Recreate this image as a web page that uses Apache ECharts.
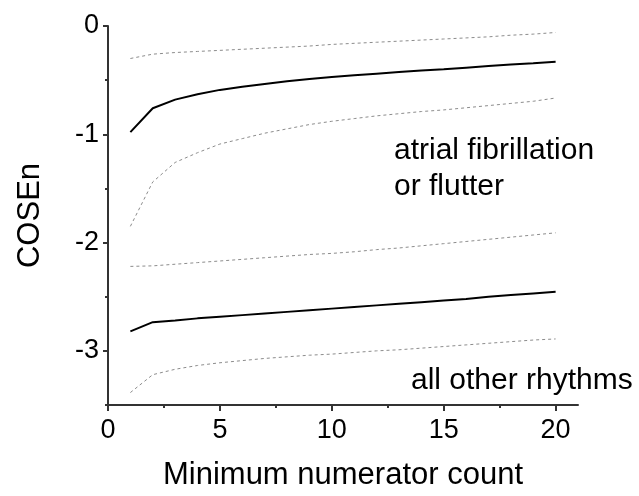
<!DOCTYPE html>
<html>
<head>
<meta charset="utf-8">
<script src="https://cdn.jsdelivr.net/npm/echarts@6/dist/echarts.min.js"></script>
<style>
  html, body { margin: 0; padding: 0; background: #fff; }
  #chart { width: 639px; height: 496px; }
</style>
</head>
<body>
<div id="chart"></div>
<script>
// Minimum numerator count (x values)
const counts = [1, 2, 3, 4, 5, 6, 7, 8, 9, 10, 11, 12, 13, 14, 15, 16, 17, 18, 19, 20];

// Atrial fibrillation or flutter: mean COSEn with upper / lower bounds
const afMean  = [-0.98, -0.76, -0.68, -0.63, -0.59, -0.56, -0.535, -0.51, -0.49, -0.47,
                 -0.455, -0.44, -0.425, -0.41, -0.40, -0.385, -0.37, -0.355, -0.345, -0.33];
const afUpper = [-0.30, -0.26, -0.245, -0.235, -0.225, -0.215, -0.205, -0.195, -0.185, -0.17,
                 -0.16, -0.15, -0.14, -0.13, -0.12, -0.11, -0.10, -0.085, -0.075, -0.06];
const afLower = [-1.85, -1.44, -1.26, -1.17, -1.09, -1.04, -0.99, -0.95, -0.91, -0.88,
                 -0.855, -0.83, -0.81, -0.79, -0.775, -0.755, -0.735, -0.715, -0.695, -0.665];

// All other rhythms: mean COSEn with upper / lower bounds
const otherMean  = [-2.82, -2.735, -2.72, -2.70, -2.685, -2.67, -2.655, -2.64, -2.625, -2.61,
                    -2.595, -2.58, -2.565, -2.55, -2.535, -2.52, -2.50, -2.485, -2.47, -2.455];
const otherUpper = [-2.22, -2.215, -2.20, -2.185, -2.17, -2.155, -2.14, -2.125, -2.11, -2.10,
                    -2.085, -2.065, -2.05, -2.03, -2.01, -1.99, -1.97, -1.95, -1.93, -1.91];
const otherLower = [-3.385, -3.22, -3.17, -3.135, -3.11, -3.09, -3.07, -3.055, -3.04, -3.03,
                    -3.015, -3.0, -2.99, -2.975, -2.96, -2.945, -2.93, -2.915, -2.90, -2.89];

// Axis ticks and labels
const xMajorTicks = [0, 5, 10, 15, 20];
const xMinorTicks = [2.5, 7.5, 12.5, 17.5];
const yMajorTicks = [0, -1, -2, -3];
const yMinorTicks = [-0.5, -1.5, -2.5, -3.5];

const FONT = '"Liberation Sans", Arial, Helvetica, sans-serif';
const AXIS_COLOR = '#333';

const pairs = (ys) => counts.map((x, i) => [x, ys[i]]);

function solid(name, ys) {
  return {
    name, type: 'line', data: pairs(ys), symbol: 'none', silent: true,
    xAxisIndex: 0, yAxisIndex: 0,
    lineStyle: { color: '#000', width: 2 }
  };
}
function dashed(name, ys) {
  return {
    name, type: 'line', data: pairs(ys), symbol: 'none', silent: true,
    xAxisIndex: 0, yAxisIndex: 0,
    lineStyle: { color: '#8c8c8c', width: 1, type: [3, 3] }
  };
}

const baseX = { type: 'value', min: 0, max: 21, splitLine: { show: false } };
const baseY = { type: 'value', min: -3.5, max: 0, splitLine: { show: false } };

const chart = echarts.init(document.getElementById('chart'), null, { renderer: 'canvas' });
chart.setOption({
  animation: false,
  backgroundColor: '#fff',
  grid: { left: 108, right: 61, top: 26, bottom: 86, containLabel: false },
  xAxis: [
    Object.assign({}, baseX, {
      name: 'Minimum numerator count',
      nameLocation: 'middle',
      nameGap: 55,
      nameTextStyle: { fontFamily: FONT, fontSize: 31, color: '#000' },
      axisLine: { show: true, onZero: false, lineStyle: { color: AXIS_COLOR, width: 2 } },
      axisTick: { show: true, inside: false, length: 6, customValues: xMajorTicks,
                  lineStyle: { color: AXIS_COLOR, width: 2 } },
      axisLabel: { show: true, customValues: xMajorTicks, margin: 12,
                   fontFamily: FONT, fontSize: 27, color: '#000' }
    }),
    Object.assign({}, baseX, {
      position: 'bottom',
      axisLine: { show: false, onZero: false },
      axisTick: { show: true, inside: false, length: 3, customValues: xMinorTicks,
                  lineStyle: { color: AXIS_COLOR, width: 2 } },
      axisLabel: { show: false }
    })
  ],
  yAxis: [
    Object.assign({}, baseY, {
      name: 'COSEn',
      nameLocation: 'middle',
      nameRotate: 90,
      nameGap: 62,
      nameTextStyle: { fontFamily: FONT, fontSize: 31, color: '#000' },
      axisLine: { show: true, onZero: false, lineStyle: { color: AXIS_COLOR, width: 2 } },
      axisTick: { show: true, inside: false, length: 5, customValues: yMajorTicks,
                  lineStyle: { color: AXIS_COLOR, width: 2 } },
      axisLabel: { show: true, customValues: yMajorTicks, margin: 9,
                   fontFamily: FONT, fontSize: 27, color: '#000' }
    }),
    Object.assign({}, baseY, {
      position: 'left',
      axisLine: { show: false, onZero: false },
      axisTick: { show: true, inside: false, length: 3, customValues: yMinorTicks,
                  lineStyle: { color: AXIS_COLOR, width: 2 } },
      axisLabel: { show: false }
    })
  ],
  series: [
    dashed('AF upper', afUpper),
    solid('AF mean', afMean),
    dashed('AF lower', afLower),
    dashed('Other upper', otherUpper),
    solid('Other mean', otherMean),
    dashed('Other lower', otherLower)
  ],
  graphic: [
    {
      type: 'text', left: 394, top: 133, silent: true,
      style: { text: 'atrial fibrillation\nor flutter', fontFamily: FONT, fontSize: 30,
               lineHeight: 36, fill: '#000' }
    },
    {
      type: 'text', left: 411, top: 366, silent: true,
      style: { text: 'all other rhythms', fontFamily: FONT, fontSize: 30, fill: '#000' }
    }
  ]
});
</script>
</body>
</html>
